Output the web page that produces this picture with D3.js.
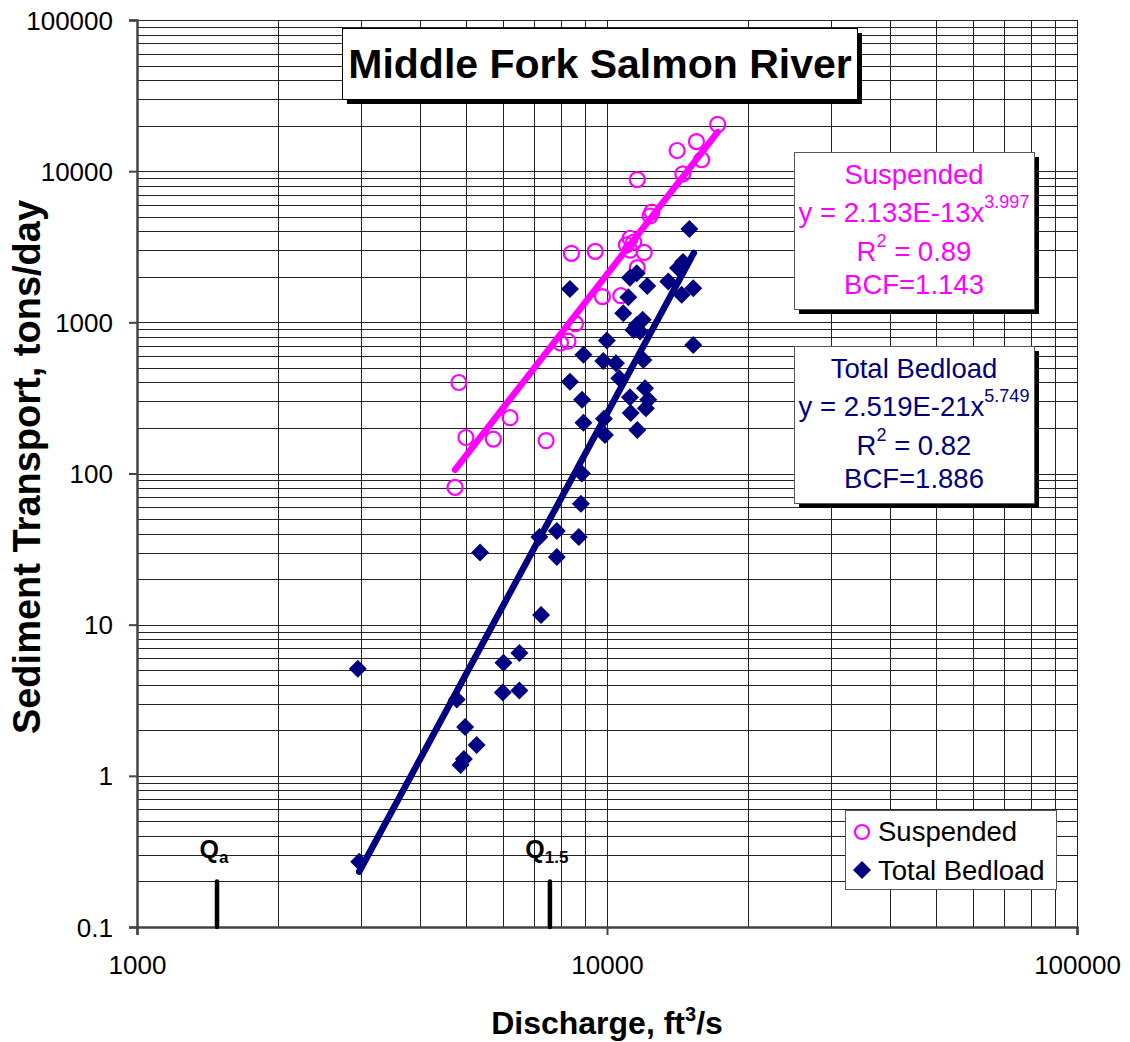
<!DOCTYPE html>
<html><head><meta charset="utf-8">
<script src="https://cdn.jsdelivr.net/npm/d3@7"></script>
<style>body{margin:0;background:#fff} svg{display:block} text{font-family:"Liberation Sans",Arial,Helvetica,sans-serif}</style>
</head><body><svg id="c" width="1130" height="1042"></svg>
<script>
// ---- data ----
const suspendedQ = [17200,15500,14100,15900,14500,11600,12460,12350,11200,11400,11000,12000,11200,11600,8400,9440,9780,10700,8570,8260,7960,4840,6220,5010,5730,7420,4750];
const suspendedLoad = [20400,15700,13700,11900,9600,8800,5370,5050,3600,3400,3250,2900,3000,2300,2860,2950,1480,1500,980,750,730,400,234,173,169,165,81];
const bedloadQ = [2950,2970,4790,4990,5280,4960,4880,5370,6020,6510,6000,6510,7240,7180,7820,8710,7820,8800,8840,8910,8850,8340,8910,8340,9820,9990,10450,9900,9850,11600,11190,12050,12240,11230,12100,11570,11750,11950,10620,15260,10830,11100,11190,11570,12180,13500,15260,14420,11910,11380,14970,14510,14160];
const bedloadLoad = [5.1,0.27,3.2,2.1,1.6,1.29,1.18,30,5.6,6.5,3.56,3.67,11.6,38,41.7,38,28,63,100,217,307,405,610,1660,555,757,536,180,230,194,320,367,307,251,270,960,870,564,427,709,1150,1466,1970,2110,1740,1860,1680,1520,1040,890,4150,2510,2290];
const fitNames = ["Suspended","Total Bedload"];
const fitCoef = [2.133e-13, 2.519e-21];
const fitExp = [3.997, 5.749];
const fitQRange = [[4750,17200],[2970,15300]];
const fitCoefLabel = ["2.133E-13","2.519E-21"];
const fitExpLabel = ["3.997","5.749"];
const fitR2 = ["0.89","0.82"];
const fitBCF = ["1.143","1.886"];
const xTickValues = [1000,10000,100000];
const xTickLabels = ["1000","10000","100000"];
const yTickValues = [0.1,1,10,100,1000,10000,100000];
const yTickLabels = ["0.1","1","10","100","1000","10000","100000"];
const refQ = [1480, 7560];
const refQMain = ["Q","Q"];
const refQSub = ["a","1.5"];
const refQTop = 0.2;

// ---- chart ----
const svg = d3.select("#c");
const L=137,R=1077,T=20,B=927;
const x = d3.scaleLog().domain([1000,100000]).range([L,R]);
const y = d3.scaleLog().domain([0.1,100000]).range([B,T]);
const MAG="#FF00FF", NAVY="#000080";

// grid
const xGrid=[], yGrid=[];
[1000,10000].forEach(d=>{for(let k=1;k<10;k++) xGrid.push(k*d);}); xGrid.push(100000);
[0.1,1,10,100,1000,10000].forEach(d=>{for(let k=1;k<10;k++) yGrid.push(k*d);}); yGrid.push(100000);
const g = svg.append("g").attr("shape-rendering","crispEdges");
g.selectAll(".vg").data(xGrid).join("line")
 .attr("x1",d=>Math.round(x(d))+0.5).attr("x2",d=>Math.round(x(d))+0.5).attr("y1",T).attr("y2",B)
 .attr("stroke","#222").attr("stroke-width",1);
g.selectAll(".hg").data(yGrid).join("line")
 .attr("y1",d=>Math.round(y(d))+0.5).attr("y2",d=>Math.round(y(d))+0.5).attr("x1",L).attr("x2",R)
 .attr("stroke","#222").attr("stroke-width",1);

// axes
const yAxis = d3.axisLeft(y).tickValues(yTickValues).tickSize(8).tickFormat((d,i)=>yTickLabels[i]);
const ya = svg.append("g").attr("transform",`translate(${L},0)`).call(yAxis);
const xAxis = d3.axisBottom(x).tickValues(xTickValues).tickSize(8).tickFormat((d,i)=>xTickLabels[i]);
const xa = svg.append("g").attr("transform",`translate(0,${B})`).call(xAxis);
[ya,xa].forEach(a=>{
  a.select(".domain").attr("stroke","#444").attr("stroke-width",2.5);
  a.selectAll(".tick line").attr("stroke","#444").attr("stroke-width",2);
  a.selectAll(".tick text").attr("font-size",26).attr("fill","#000").attr("font-family",'"Liberation Sans",Arial,sans-serif');
});
ya.selectAll(".tick text").attr("x",-24).attr("dy","0.35em");
xa.selectAll(".tick text").attr("y",29).attr("dy","0.71em");

// axis titles
svg.append("text").attr("x",607).attr("y",1034).attr("text-anchor","middle")
 .attr("font-size",32).attr("font-weight","bold")
 .call(t=>{t.append("tspan").text("Discharge, ft");t.append("tspan").attr("font-size",20).attr("dy",-13).text("3");t.append("tspan").attr("dy",13).text("/s");});
svg.append("text").attr("transform","translate(40,467) rotate(-90)").attr("text-anchor","middle")
 .attr("font-size",38).attr("font-weight","bold").text("Sediment Transport, tons/day");

// Q reference marks
refQ.forEach((q,i)=>{
  svg.append("line").attr("x1",x(q)).attr("x2",x(q)).attr("y1",y(refQTop)).attr("y2",B)
   .attr("stroke","#000").attr("stroke-width",4.5).attr("stroke-linecap","round");
  const t=svg.append("text").attr("x",x(q)-3).attr("y",858).attr("text-anchor","middle").attr("font-size",25).attr("font-weight","bold");
  t.append("tspan").text(refQMain[i]);
  t.append("tspan").attr("font-size",17).attr("dy",5).text(refQSub[i]);
});

// fit lines
const colors=[MAG,NAVY];
fitNames.forEach((n,i)=>{
  const pts=fitQRange[i].map(q=>[x(q),y(fitCoef[i]*Math.pow(q,fitExp[i]))]);
  svg.append("line").attr("x1",pts[0][0]).attr("y1",pts[0][1]).attr("x2",pts[1][0]).attr("y2",pts[1][1])
   .attr("stroke",colors[i]).attr("stroke-width",6.5).attr("stroke-linecap","round");
});

// points
svg.append("g").selectAll("circle").data(suspendedQ).join("circle")
 .attr("cx",d=>x(d)).attr("cy",(d,i)=>y(suspendedLoad[i])).attr("r",7.5)
 .attr("fill","none").attr("stroke",MAG).attr("stroke-width",2.2);
const dia = s=>`M0,${-s}L${s},0L0,${s}L${-s},0Z`;
svg.append("g").selectAll("path").data(bedloadQ).join("path")
 .attr("transform",(d,i)=>`translate(${x(d)},${y(bedloadLoad[i])})`).attr("d",dia(9)).attr("fill",NAVY);

// title box
function shadowBox(x0,y0,w,h,stroke){
  svg.append("rect").attr("x",x0+5).attr("y",y0+5).attr("width",w).attr("height",h).attr("fill","#000");
  svg.append("rect").attr("x",x0+0.5).attr("y",y0+0.5).attr("width",w).attr("height",h).attr("fill","#fff").attr("stroke",stroke).attr("stroke-width",1);
}
shadowBox(342,28,515,71,"#000");
svg.append("text").attr("x",600).attr("y",78).attr("text-anchor","middle").attr("font-size",41).attr("font-weight","bold").text("Middle Fork Salmon River");

// equation boxes
const boxY=[152,346];
fitNames.forEach((n,i)=>{
  const y0=boxY[i], cx=914;
  shadowBox(794,y0,240,157,"#555");
  const c=colors[i];
  svg.append("text").attr("x",cx).attr("y",y0+32).attr("text-anchor","middle").attr("font-size",27.5).attr("fill",c).text(n);
  const e=svg.append("text").attr("x",cx).attr("y",y0+70).attr("text-anchor","middle").attr("font-size",27.5).attr("fill",c);
  e.append("tspan").text(`y = ${fitCoefLabel[i]}x`);
  e.append("tspan").attr("font-size",18).attr("dy",-14).text(fitExpLabel[i]);
  const r=svg.append("text").attr("x",cx).attr("y",y0+109).attr("text-anchor","middle").attr("font-size",27.5).attr("fill",c);
  r.append("tspan").text("R");
  r.append("tspan").attr("font-size",18).attr("dy",-14).text("2");
  r.append("tspan").attr("dy",14).text(` = ${fitR2[i]}`);
  svg.append("text").attr("x",cx).attr("y",y0+142).attr("text-anchor","middle").attr("font-size",27.5).attr("fill",c).text(`BCF=${fitBCF[i]}`);
});

// legend
svg.append("rect").attr("x",845.5).attr("y",810.5).attr("width",211).attr("height",79).attr("fill","#fff").attr("stroke","#555");
svg.append("circle").attr("cx",862).attr("cy",832).attr("r",7).attr("fill","none").attr("stroke",MAG).attr("stroke-width",2.2);
svg.append("path").attr("transform","translate(862,870)").attr("d",dia(9)).attr("fill",NAVY);
svg.append("text").attr("x",878).attr("y",841).attr("font-size",27.5).text(fitNames[0]);
svg.append("text").attr("x",878).attr("y",880).attr("font-size",27.5).text(fitNames[1]);
</script></body></html>
